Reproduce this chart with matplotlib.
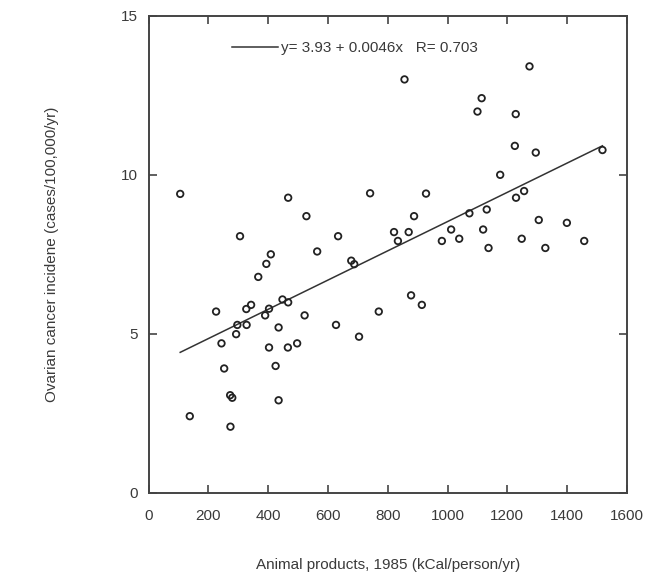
import numpy as np
import matplotlib
matplotlib.use('Agg')
import matplotlib.pyplot as plt

plt.rcParams['font.family'] = ['Liberation Sans', 'DejaVu Sans']

# animal products (kCal/person/yr) and ovarian cancer incidence
animal = [106, 467, 528, 741, 306, 634, 409, 564,
          394, 367, 678, 688, 226, 327, 343, 403, 448, 467, 390, 522,
          297, 328, 770, 627, 293, 435, 244, 403, 466, 497, 704, 253,
          425, 273, 280, 435, 138, 274,
          1274, 856, 1114, 1100, 1228, 1225, 1295, 1518, 1176, 928,
          1256, 1229, 1131, 1073, 888, 1305, 1399, 821, 870, 1012,
          1119, 834, 981, 1039, 1248, 1457, 1137, 1327,
          878, 914]
incidence = [9.40, 9.28, 8.70, 9.42, 8.07, 8.07, 7.50, 7.59,
             7.20, 6.79, 7.30, 7.19, 5.70, 5.78, 5.91, 5.79, 6.08, 5.99, 5.58, 5.58,
             5.28, 5.28, 5.70, 5.28, 4.99, 5.20, 4.70, 4.57, 4.57, 4.70, 4.91, 3.91,
             3.99, 3.07, 2.99, 2.91, 2.41, 2.08,
             13.41, 13.00, 12.41, 11.99, 11.91, 10.91, 10.70, 10.78, 10.00, 9.41,
             9.49, 9.28, 8.91, 8.79, 8.70, 8.58, 8.49, 8.20, 8.20, 8.28,
             8.28, 7.92, 7.92, 7.99, 7.99, 7.92, 7.70, 7.70,
             6.21, 5.91]

intercept = 3.93
slope = 0.0046
r_value = 0.703

txt = '#3a3a3a'

fig = plt.figure(figsize=(6.72, 5.86), dpi=100)
ax = fig.add_axes([0.221, 0.159, 0.712, 0.814])

ax.scatter(animal, incidence, s=22, facecolors='none', edgecolors='#222222', linewidths=1.3, zorder=3)

xs = np.array([min(animal), max(animal)])
ax.plot(xs, intercept + slope * xs, color='#333333', lw=1.1,
        label=f'y= {intercept} + {slope}x   R= {r_value}')

ax.set_xlim(0, 1600)
ax.set_ylim(0, 15)
ax.set_xticks(range(0, 1601, 200))
ax.set_yticks([0, 5, 10, 15])

for s in ax.spines.values():
    s.set_color('#444444')
    s.set_linewidth(1.4)
ax.tick_params(direction='in', length=6, width=1.2, color='#444444',
               top=True, right=True, labelsize=11, labelcolor=txt)
ax.tick_params(axis='x', pad=12)
ax.tick_params(axis='y', pad=8)

ax.set_xlabel('Animal products, 1985 (kCal/person/yr)', fontsize=11, color=txt, labelpad=25)
ax.set_ylabel('Ovarian cancer incidene (cases/100,000/yr)', fontsize=11, color=txt, labelpad=44)

leg = ax.legend(loc='upper left', bbox_to_anchor=(0.145, 0.975), frameon=False,
                fontsize=11, handlelength=3.05, handletextpad=0.2)
for t in leg.get_texts():
    t.set_color(txt)

fig.savefig('out.png', dpi=100)
